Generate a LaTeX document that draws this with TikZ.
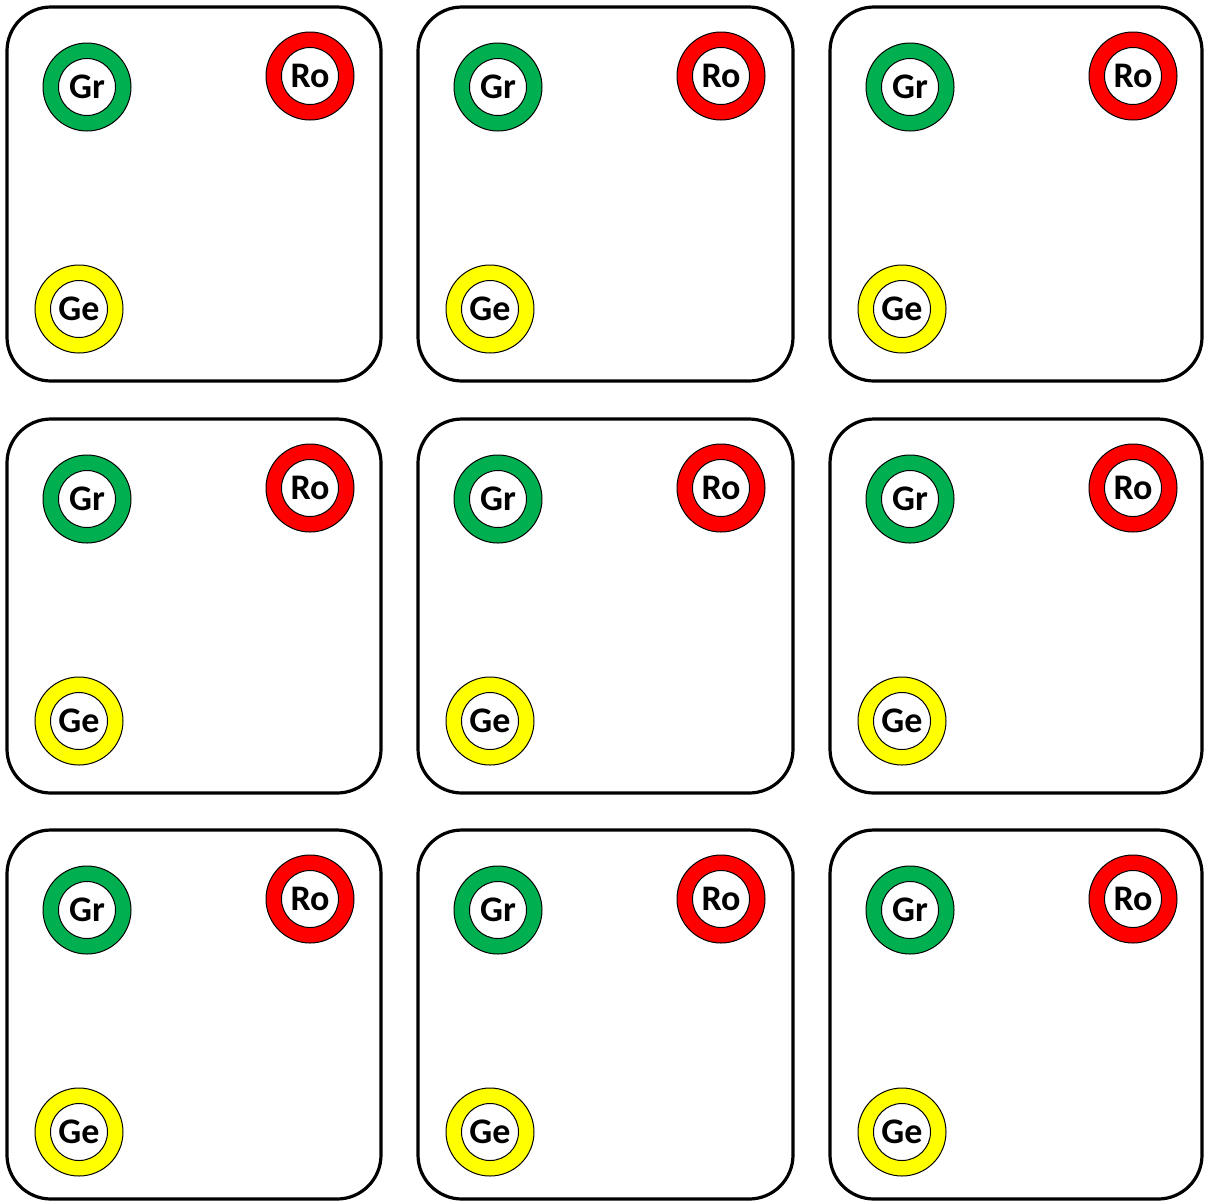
\documentclass[tikz,border=0pt]{standalone}
\usepackage{fontspec}
\setmainfont{Carlito}
\definecolor{ringgreen}{HTML}{00B050}
\definecolor{ringred}{HTML}{FF0000}
\definecolor{ringyellow}{HTML}{FFFF00}
\tikzset{
  card/.style={draw=black, line width=3.2pt, rounded corners=44pt, fill=white},
  ring/.style={circle, draw=black, line width=1pt, fill=#1, minimum size=88pt, inner sep=0pt},
  hole/.style={circle, draw=black, line width=1pt, fill=white, minimum size=57pt, inner sep=0pt,
    font=\fontsize{36}{40}\selectfont\bfseries},
}
\begin{document}
\begin{tikzpicture}[x=1pt,y=-1pt]
\useasboundingbox (0,0) rectangle (1206,1203);
\foreach \c/\xl/\xr in {1/7/381, 2/418/793, 3/830/1202}{
  \foreach \r/\yt/\yb in {1/7/381, 2/419/793, 3/830/1199}{
    \draw[card] (\xl,\yt) rectangle (\xr,\yb);
    \node[ring=ringgreen] (gr\c\r) at (\xl+80,\yt+80) {};
    \node[hole] (grt\c\r) at (gr\c\r) {Gr};
    \node[ring=ringred] (ro\c\r) at (\xl+303,\yt+69) {};
    \node[hole] (rot\c\r) at (ro\c\r) {Ro};
    \node[ring=ringyellow] (ge\c\r) at (\xl+72,\yt+302) {};
    \node[hole] (get\c\r) at (ge\c\r) {Ge};
  }
}
\end{tikzpicture}
\end{document}
